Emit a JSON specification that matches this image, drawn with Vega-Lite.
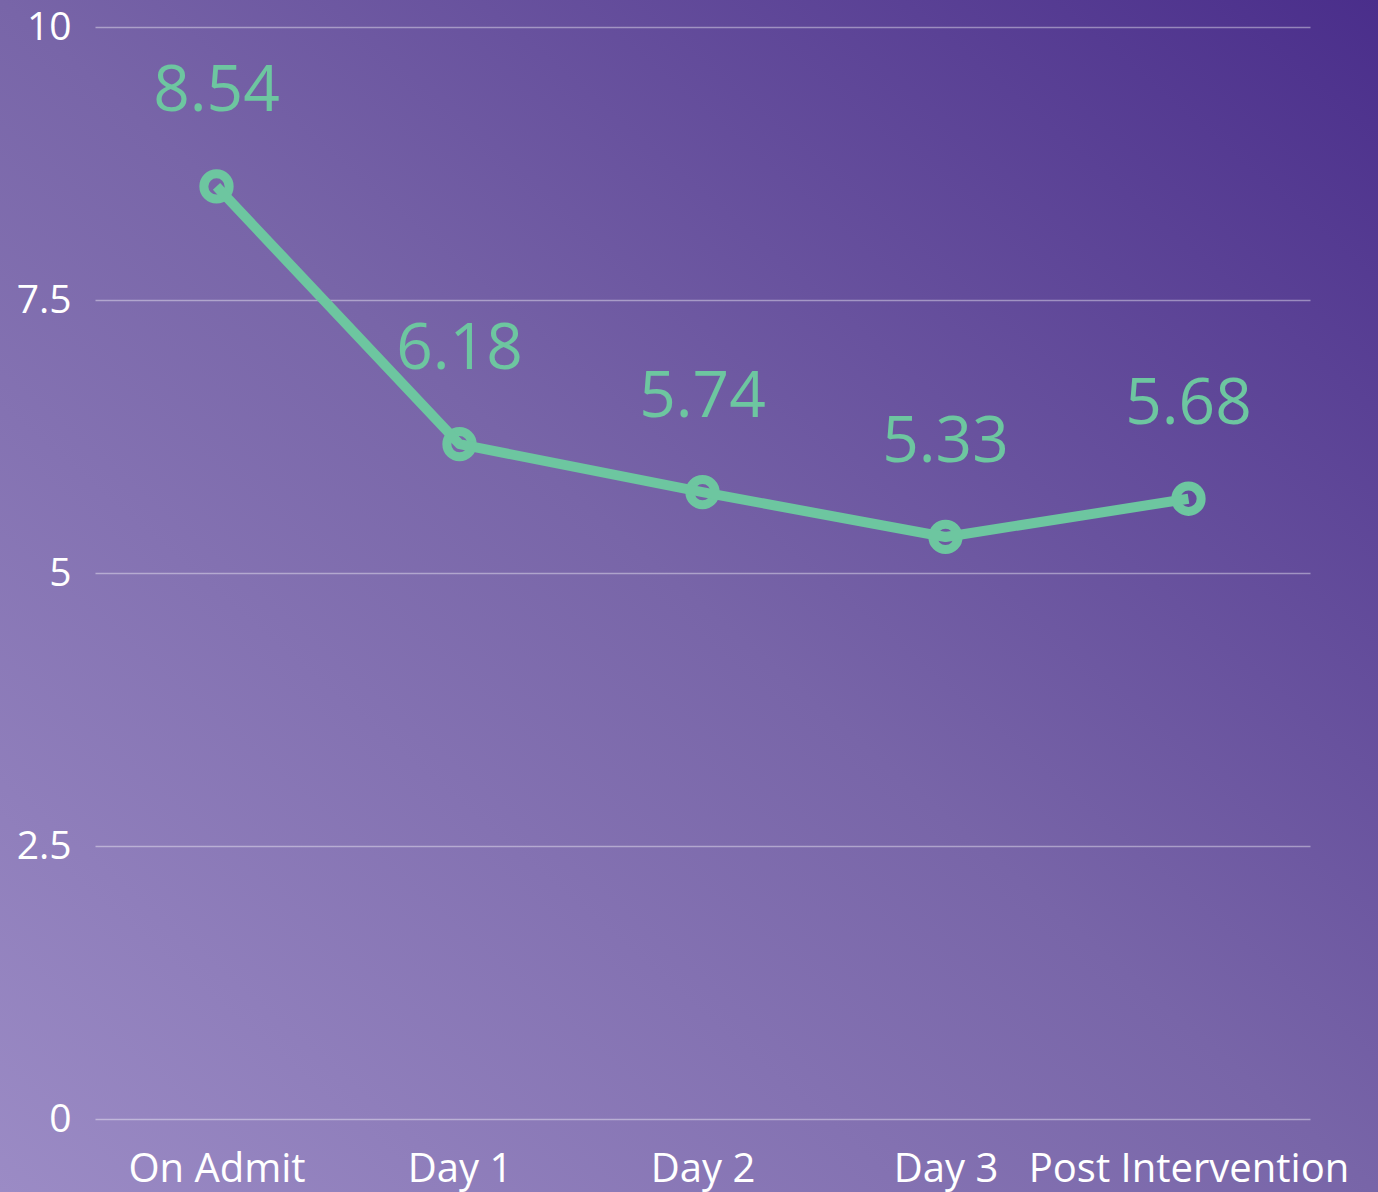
{
  "$schema": "https://vega.github.io/schema/vega-lite/v6.json",
  "width": 1378,
  "height": 1192,
  "padding": 0,
  "autosize": {"type": "none"},
  "background": "#7764a7",
  "view": {
    "stroke": null,
    "fill": {
      "gradient": "linear",
      "x1": 0, "y1": 1, "x2": 1, "y2": 0,
      "stops": [
        {"offset": 0, "color": "#9b8bc5"},
        {"offset": 0.5, "color": "#7865a8"},
        {"offset": 1, "color": "#4a2e8b"}
      ]
    }
  },
  "data": {
    "values": [
      {"stage": "On Admit", "value": 8.54},
      {"stage": "Day 1", "value": 6.18},
      {"stage": "Day 2", "value": 5.74},
      {"stage": "Day 3", "value": 5.33},
      {"stage": "Post Intervention", "value": 5.68}
    ]
  },
  "encoding": {
    "x": {
      "field": "stage",
      "type": "nominal",
      "sort": null,
      "scale": {"type": "point", "range": [95, 1310], "padding": 0.5},
      "axis": {
        "orient": "bottom",
        "offset": -43,
        "domain": false,
        "ticks": false,
        "tickSize": 0,
        "labelPadding": 0,
        "labelAngle": 0,
        "labelOverlap": false,
        "labelLimit": 0,
        "labelBaseline": "top",
        "grid": false,
        "title": null,
        "labelColor": "#ffffff",
        "labelFont": "Open Sans",
        "labelFontSize": 40
      }
    },
    "y": {
      "field": "value",
      "type": "quantitative",
      "scale": {"domain": [0, 10], "range": [1119, 27], "nice": false, "zero": false},
      "axis": {
        "values": [0, 2.5, 5, 7.5, 10],
        "labelExpr": "'' + datum.value",
        "offset": -71,
        "domain": false,
        "ticks": false,
        "tickSize": 0,
        "labelPadding": 0,
        "title": null,
        "grid": true,
        "gridColor": "#ffffff",
        "gridOpacity": 0.4,
        "gridWidth": 1.5,
        "labelColor": "#ffffff",
        "labelFont": "Open Sans",
        "labelFontSize": 39,
        "labelOverlap": false
      }
    }
  },
  "layer": [
    {
      "mark": {"type": "point", "shape": "circle", "filled": false, "color": "#6dc6a0", "strokeWidth": 9, "size": 640, "opacity": 1}
    },
    {
      "mark": {"type": "line", "color": "#6dc6a0", "strokeWidth": 10, "strokeJoin": "round"}
    },
    {
      "mark": {"type": "text", "color": "#6dc6a0", "font": "Open Sans", "fontSize": 64, "baseline": "alphabetic", "align": "center", "dy": -75},
      "encoding": {"text": {"field": "value", "type": "quantitative", "format": ".2f"}}
    }
  ]
}
